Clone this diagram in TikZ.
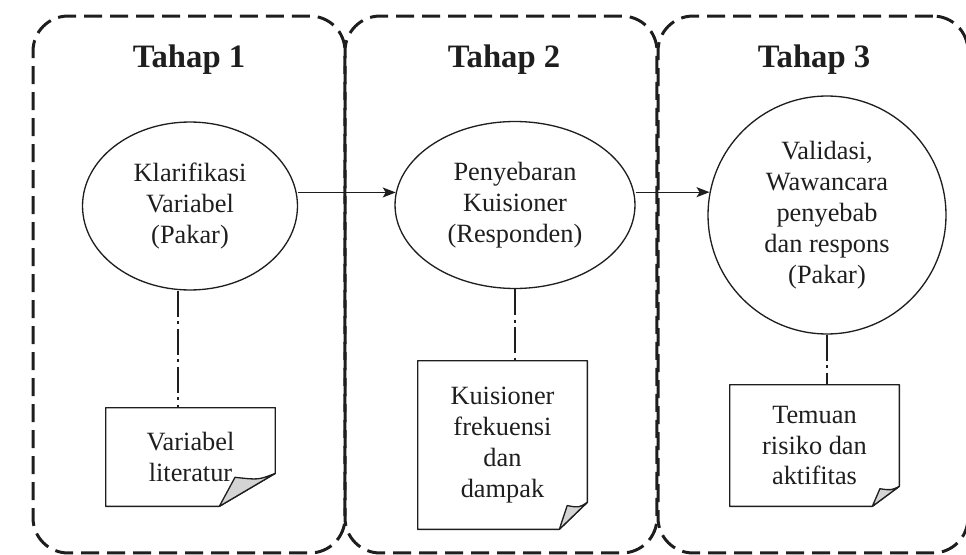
\documentclass[tikz,border=0pt]{standalone}
\usepackage{fontspec}
\setmainfont{Liberation Serif}
\usetikzlibrary{calc,arrows.meta,shapes.geometric}

\definecolor{ink}{HTML}{1E1E1E}
\definecolor{foldgray}{HTML}{D4D4D4}

\begin{document}
\begin{tikzpicture}[x=0.02cm,y=-0.02cm,
        stage/.style={draw=ink,line width=1.7pt,dash pattern=on 0.36cm off 0.16cm,
                rounded corners=0.7cm,minimum height=10.74cm,inner sep=0pt},
        ttl/.style={anchor=base,text=ink,font=\fontsize{18.6}{22}\selectfont\bfseries},
        proc/.style={ellipse,draw=ink,line width=0.75pt,inner sep=0pt,align=center,
                text=ink,font=\fontsize{15}{17.6}\selectfont},
        note/.style={rectangle,minimum width=3.38cm,inner sep=0pt,align=center,
                text=ink,font=\fontsize{15}{17.6}\selectfont},
        sheet/.style={draw=ink,line width=0.75pt,line join=round},
        link/.style={draw=ink,line width=1.4pt,dash pattern=on 0.52cm off 0.09cm on 0.06cm off 0.09cm},
        flow/.style={-{Stealth[length=0.26cm,width=0.2cm,inset=0.06cm]},draw=ink,line width=0.75pt}]
        \useasboundingbox (0,0) rectangle (966,554);
        % tahap panels
        \node[stage,minimum width=6.24cm] (p1) at (189,284.5){};
        \node[stage,minimum width=6.24cm] (p2) at (501,284.5){};
        \node[stage,minimum width=6.2cm] (p3) at (813,284.5){};
        \node[ttl] (t1) at (189,68){Tahap 1};
        \node[ttl] (t2) at (504,68){Tahap 2};
        \node[ttl] (t3) at (814,68){Tahap 3};
        % proses
        \node[proc,minimum width=4.3cm,minimum height=3.36cm] (e1) at (190,206)
                {Klarifikasi\\Variabel\\(Pakar)};
        \node[proc,minimum width=4.8cm,minimum height=3.34cm] (e2) at (515,205)
                {Penyebaran\\Kuisioner\\(Responden)};
        \node[proc,circle,minimum size=4.76cm] (c3) at (827,215)
                {Validasi,\\Wawancara\\penyebab\\dan respons\\(Pakar)};
        % dokumen
        \node[note,minimum height=1.96cm] (d1) at (190.5,457){Variabel\\literatur};
        \node[note,minimum height=3.36cm] (d2) at (502.5,445){Kuisioner\\frekuensi\\dan\\dampak};
        \node[note,minimum height=2.42cm] (d3) at (814.5,445.5){Temuan\\risiko dan\\aktifitas};
        \foreach \d/\fx/\fy in {d1/56/33,d2/28/27,d3/27/20}{
                \coordinate (\d-r) at ($(\d.south east)+(0,-\fy)$);
                \coordinate (\d-b) at ($(\d.south east)+(-\fx,0)$);
                \coordinate (\d-c) at ($(\d-r)+(-0.72*\fx,0.12*\fy)$);
                \draw[sheet] (\d.north west) -- (\d.north east) -- (\d-r) -- (\d-b)
                        -- (\d.south west) -- cycle;
                \draw[sheet,fill=foldgray] (\d-r) .. controls ($(\d-r)+(-0.3*\fx,0.2*\fy)$) .. (\d-c)
                        -- (\d-b) -- cycle;
        }
        % penghubung
        \draw[flow] (e1.east |- e2.174) -- (e2.174);
        \draw[flow] (e2.east |- c3.169) -- (c3.169);
        \draw[link] ([xshift=-0.24cm]e1.south) -- ([xshift=-0.24cm]e1.south |- d1.north);
        \draw[link] (e2.south) -- (e2.south |- d2.north);
        \draw[link] (c3.south) -- (c3.south |- d3.north);
\end{tikzpicture}
\end{document}
